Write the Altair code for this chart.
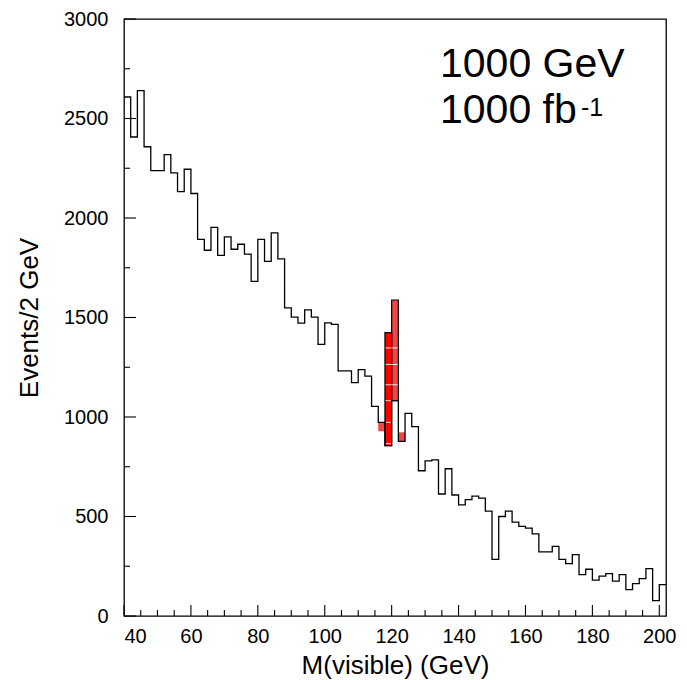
import altair as alt
import pandas as pd

# events per 2 GeV bin, lower bin edges 40 .. 200
bin_low = list(range(40, 202, 2))
events = [2608, 2407, 2640, 2358, 2238, 2238, 2318, 2227, 2133, 2245,
          2123, 1893, 1838, 1953, 1812, 1905, 1843, 1868, 1818, 1682,
          1893, 1782, 1925, 1795, 1548, 1502, 1472, 1538, 1502, 1365,
          1473, 1465, 1232, 1232, 1173, 1238, 1205, 1053, 973, 856,
          1082, 878, 1018, 952, 730, 780, 785, 613, 740, 608,
          558, 585, 602, 592, 527, 285, 500, 527, 472, 450,
          442, 413, 322, 322, 350, 285, 263, 308, 208, 235,
          180, 200, 213, 175, 208, 133, 163, 188, 238, 77, 158]

# higgs signal boxes
sig_low = [116, 118, 120, 122]
sig_bottom = [928, 856, 1082, 878]
sig_top = [973, 1424, 1588, 923]
sig_kind = ["hatched", "solid", "hatched", "hatched"]
white_levels = [1347, 1264, 1162, 1082, 973, 866]

y_major = [0, 500, 1000, 1500, 2000, 2500, 3000]
y_minor = [250, 750, 1250, 1750, 2250, 2750]
x_major = [40, 60, 80, 100, 120, 140, 160, 180, 200]
x_minor = [v for v in range(45, 202, 5) if v not in x_major]

W, H = 542, 597
FONT = "Liberation Sans"

xscale = alt.Scale(domain=[40, 202], nice=False, zero=False)
yscale = alt.Scale(domain=[0, 3000], nice=False)

steps = pd.DataFrame({"x": bin_low + [202], "y": events + [events[-1]]})
sig = pd.DataFrame({"x": sig_low, "x2": [v + 2 for v in sig_low],
                    "y": sig_bottom, "y2": sig_top, "kind": sig_kind})
wl = pd.DataFrame({"y": white_levels, "x": [118.2] * len(white_levels),
                   "x2": [121.8] * len(white_levels)})

hist = alt.Chart(steps).mark_line(
    interpolate="step-after", color="black", strokeWidth=1.3
).encode(
    x=alt.X("x:Q", scale=xscale,
            axis=alt.Axis(values=x_major, format="d", ticks=False, domain=False,
                          grid=False, labelFontSize=20, labelPadding=10,
                          labelColor="black", title="M(visible) (GeV)",
                          titleFontSize=26, titleFontWeight="normal",
                          titleColor="black", titleY=57,
                          titleBaseline="alphabetic")),
    y=alt.Y("y:Q", scale=yscale,
            axis=alt.Axis(values=y_major, format="d", ticks=False, domain=False,
                          grid=False, labelFontSize=20, labelPadding=16,
                          labelColor="black", title="Events/2 GeV",
                          titleFontSize=26, titleFontWeight="normal",
                          titleColor="black", titleX=-87, titleY=H / 2,
                          titleBaseline="alphabetic")),
)

hatched = alt.Chart(sig).transform_filter(
    alt.datum.kind == "hatched"
).mark_rect(color="#f04646").encode(
    x=alt.X("x:Q"), x2="x2:Q",
    y=alt.Y("y:Q"), y2="y2:Q",
    stroke=alt.condition(alt.datum.y2 > 1500, alt.value("black"), alt.value("transparent")),
    strokeWidth=alt.value(1.2),
)

solid = alt.Chart(sig).transform_filter(
    alt.datum.kind == "solid"
).mark_rect(color="#ff0000", stroke="black", strokeWidth=1.2).encode(
    x=alt.X("x:Q"), x2="x2:Q",
    y=alt.Y("y:Q"), y2="y2:Q",
)

white = alt.Chart(wl).mark_rule(color="white", strokeWidth=1, opacity=0.85).encode(
    x=alt.X("x:Q"), x2="x2:Q",
    y=alt.Y("y:Q"),
)


def yticks(vals, size):
    return alt.Chart(pd.DataFrame({"y": vals})).mark_rule(
        color="black", strokeWidth=1.1
    ).encode(y=alt.Y("y:Q"), x=alt.value(0), x2=alt.value(size))


def xticks(vals, size):
    return alt.Chart(pd.DataFrame({"x": vals})).mark_rule(
        color="black", strokeWidth=1.1
    ).encode(x=alt.X("x:Q"), y=alt.value(H), y2=alt.value(H - size))


def label(txt, x, y, size):
    return alt.Chart(pd.DataFrame({"t": [txt]})).mark_text(
        align="left", baseline="alphabetic", fontSize=size, font=FONT,
        color="black"
    ).encode(text="t:N", x=alt.value(x), y=alt.value(y))


chart = alt.layer(
    hatched, solid, white,
    yticks(y_major, 12), yticks(y_minor, 6),
    xticks(x_major, 11), xticks(x_minor, 6),
    hist,
    label("1000 GeV", 316, 58, 41),
    label("1000 fb", 316, 104, 41),
    label("-1", 457, 97, 25),
).properties(
    width=W, height=H,
    autosize=alt.AutoSizeParams(type="none"),
    padding={"left": 116, "top": 11, "right": 13, "bottom": 64},
).configure(font=FONT).configure_view(stroke="black", strokeWidth=1.3)

chart.save("out.html", embed_options={"renderer": "svg", "actions": False})
